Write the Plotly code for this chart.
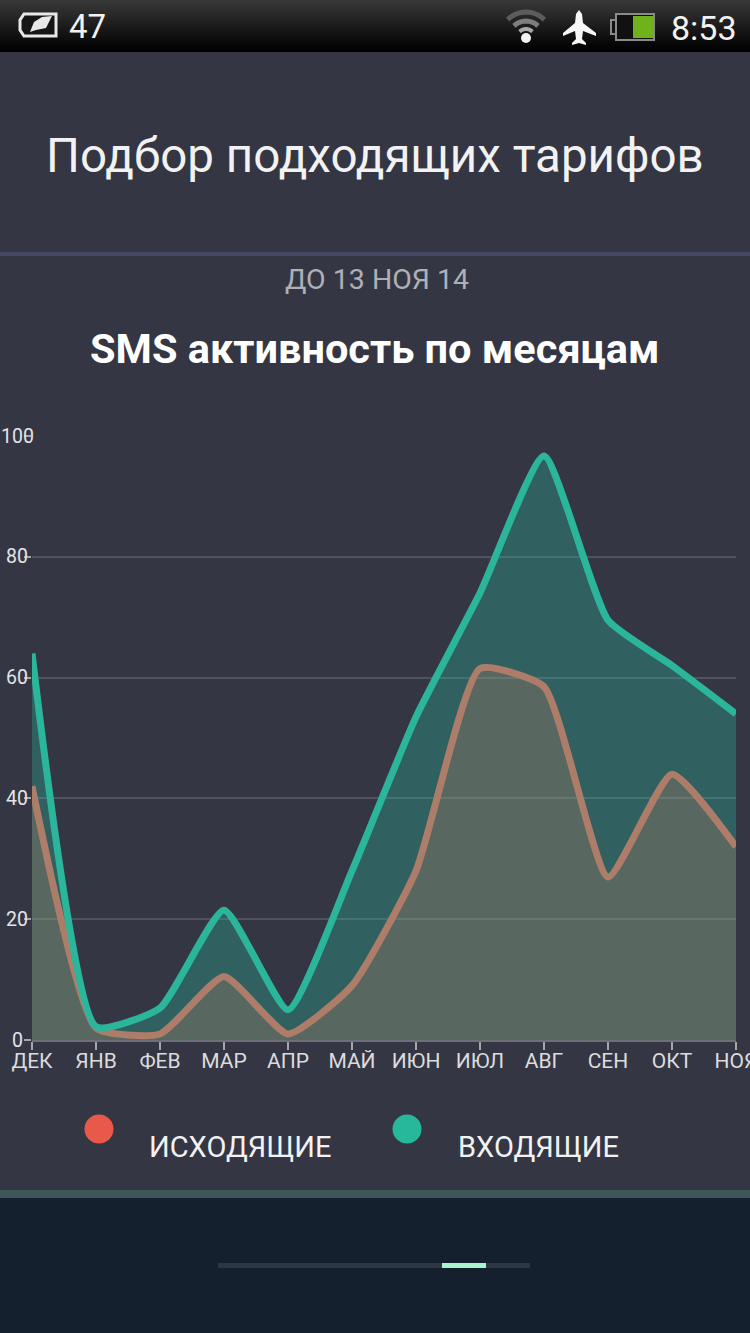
#!/usr/bin/python3

import math
import plotly.graph_objects as go

months = ["ДЕК", "ЯНВ", "ФЕВ", "МАР", "АПР", "МАЙ", "ИЮН", "ИЮЛ", "АВГ", "СЕН", "ОКТ", "НОЯ"]
incoming = [64, 2.2, 5.3, 21.5, 5, 28, 53.5, 74, 96.7, 69.5, 62, 54]
outgoing = [42, 2, 1, 10.5, 1, 9, 28, 61.5, 58.5, 27, 44, 32]
y_ticks = [0, 20, 40, 60, 80, 100]

W = 750
H = 1333
BG = "#343743"
FONT = "Roboto"
SMOOTH = 0.5


def px(x):
    return x / W


def py(y):
    return 1 - y / H


def rect(x0, y0, x1, y1, color, layer="below"):
    return dict(type="rect", xref="paper", yref="paper", x0=px(x0), x1=px(x1), y0=py(y0), y1=py(y1),
                fillcolor=color, line=dict(width=0), layer=layer)


def circle(cx, cy, r, color):
    return dict(type="circle", xref="paper", yref="paper", x0=px(cx - r), x1=px(cx + r), y0=py(cy - r), y1=py(cy + r),
                fillcolor=color, line=dict(width=0), layer="above")


def poly(points, fill=None, line=None, width=0, closed=True):
    d = "M " + " L ".join(f"{px(x):.5f},{py(y):.5f}" for x, y in points)
    if closed:
        d += " Z"
    return dict(type="path", xref="paper", yref="paper", path=d, fillcolor=fill,
                line=dict(color=line, width=width), layer="above")


def arc(cx, cy, r, color, width):
    pts = []
    for i in range(13):
        a = math.radians(-135 + i * 90 / 12)
        pts.append((cx + r * math.cos(a), cy + r * math.sin(a)))
    return poly(pts, line=color, width=width, closed=False)


def text(x, y, s, size, color="#f2f2f2", bold=False):
    return dict(xref="paper", yref="paper", x=px(x), y=py(y), text=f"<b>{s}</b>" if bold else s, showarrow=False,
                xanchor="center", yanchor="middle", font=dict(family=FONT, size=size, color=color))


fig = go.Figure()
fig.add_trace(go.Scatter(x=months, y=incoming, mode="lines", line=dict(shape="spline", smoothing=SMOOTH, width=0),
                         fill="tozeroy", fillcolor="rgba(43,181,154,0.33)"))
fig.add_trace(go.Scatter(x=months, y=outgoing, mode="lines", line=dict(shape="spline", smoothing=SMOOTH, width=0),
                         fill="tozeroy", fillcolor="rgba(232,133,100,0.22)"))
fig.add_trace(go.Scatter(x=months, y=outgoing, mode="lines",
                         line=dict(shape="spline", smoothing=SMOOTH, width=7, color="#ad7d69")))
fig.add_trace(go.Scatter(x=months, y=incoming, mode="lines",
                         line=dict(shape="spline", smoothing=SMOOTH, width=7, color="#2bb59a")))

shapes = []
# status bar
for i in range(26):
    shade = int(56 * (1 - i / 25))
    shapes.append(rect(0, i * 2, W, i * 2 + 2, f"rgb({shade},{shade},{shade})"))
# divider, bottom bar, pager
shapes.append(rect(0, 252, W, 256, "#454a63"))
shapes.append(rect(0, 1190, W, 1198, "#40575a"))
shapes.append(rect(0, 1198, W, H, "#14202e"))
shapes.append(rect(218, 1263, 530, 1268, "#2c3743"))
shapes.append(rect(442, 1263, 486, 1268, "#a8f5cd"))
# legend dots
shapes.append(circle(99, 1129, 14.5, "#e8594a"))
shapes.append(circle(407, 1129, 14.5, "#27b89c"))
# status icons
shapes.append(arc(526, 38, 26, "#5c5c5c", 5))
shapes.append(arc(526, 38, 17, "#7d7d7d", 5))
shapes.append(arc(526, 38, 9, "#a8a8a8", 4))
shapes.append(circle(526, 38, 5, "#f2f2f2"))
shapes.append(poly([(579, 10), (582, 14), (583, 23), (596, 33), (596, 36), (583, 31), (582, 39), (586, 43), (586, 45),
                    (579, 43), (572, 45), (572, 43), (576, 39), (575, 31), (563, 36), (563, 33), (575, 23), (576, 14)],
                   fill="#f7f7f7"))
shapes.append(poly([(616, 14), (654, 14), (654, 40), (616, 40)], fill="#111111", line="#8a8a8a", width=2))
shapes.append(poly([(611, 20), (616, 20), (616, 34), (611, 34)], fill="#111111", line="#8a8a8a", width=2))
shapes.append(rect(633, 16, 653, 38, "#6fb31c", layer="above"))
shapes.append(poly([(24, 14), (56, 14), (56, 36), (24, 36), (20, 30), (20, 20)], fill="#161616", line="#e8e8e8", width=3))
shapes.append(poly([(30, 32), (34, 22), (42, 17), (52, 16), (46, 28), (36, 30)], fill="#e8e8e8"))

annotations = [
    text(375, 156, "Подбор подходящих тарифов", 47.5),
    text(377, 279, "ДО 13 НОЯ 14", 28.5, color="#aeb0b6"),
    text(375, 349, "SMS активность по месяцам", 41.5, color="#ffffff", bold=True),
    text(240, 1147, "ИСХОДЯЩИЕ", 29),
    text(538, 1147, "ВХОДЯЩИЕ", 29),
    text(87, 27, "47", 33),
    text(704, 28, "8:53", 34),
]
for v in y_ticks:
    annotations.append(dict(xref="paper", yref="y", x=px(17), y=v, text=str(v), showarrow=False, xanchor="center",
                            yanchor="middle", font=dict(family=FONT, size=19.5, color="#e4e4e6")))

fig.update_layout(
    width=W,
    height=H,
    margin=dict(l=0, r=0, t=0, b=0),
    paper_bgcolor=BG,
    plot_bgcolor=BG,
    showlegend=False,
    shapes=shapes,
    annotations=annotations,
    xaxis=dict(
        domain=[px(32), px(736)],
        type="category",
        range=[0, 11],
        automargin=False,
        showgrid=False,
        zeroline=False,
        showline=True,
        linecolor="#6e7079",
        linewidth=2,
        ticks="outside",
        ticklen=8,
        tickwidth=2,
        tickcolor="#a5a6ac",
        ticklabeloverflow="allow",
        ticklabelstandoff=-7,
        tickangle=0,
        tickfont=dict(family=FONT, size=21, color="#dcdcde"),
    ),
    yaxis=dict(
        domain=[py(1040), py(436)],
        range=[0, 100],
        automargin=False,
        tickvals=y_ticks,
        showticklabels=False,
        showgrid=True,
        gridcolor="#4f525f",
        gridwidth=2,
        zeroline=False,
        ticks="outside",
        ticklen=7,
        tickwidth=2,
        tickcolor="#a5a6ac",
    ),
)

fig.write_html("out.html", config={"displayModeBar": False}, post_script="document.body.style.margin='0';")
